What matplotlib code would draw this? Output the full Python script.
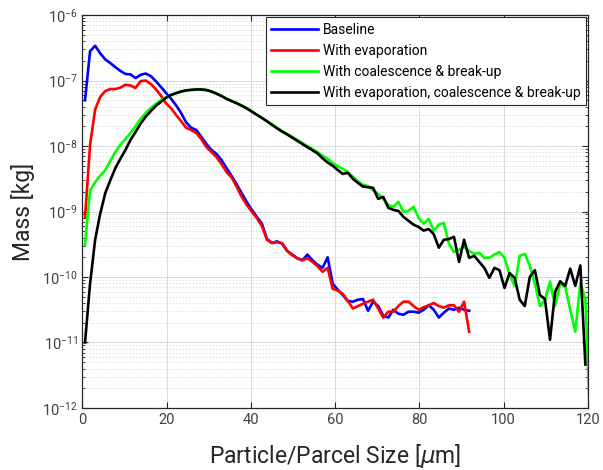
import numpy as np
import matplotlib
matplotlib.use('Agg')
import matplotlib.pyplot as plt
from matplotlib.ticker import LogLocator, MultipleLocator, NullFormatter

plt.rcParams.update({
    'font.family': ['Roboto', 'DejaVu Sans'],
    'font.size': 10.5,
    'axes.linewidth': 0.9,
    'axes.edgecolor': '#262626',
    'xtick.direction': 'in',
    'ytick.direction': 'in',
    'xtick.top': True,
    'ytick.right': True,
    'xtick.color': '#262626',
    'ytick.color': '#262626',
    'xtick.labelcolor': '#404040',
    'ytick.labelcolor': '#404040',
})

# bin centres (um)
size = np.arange(0.6, 121, 1.2)

baseline = [5.0e-8, 2.8e-7, 3.4e-7, 2.6e-7, 2.1e-7, 1.85e-7, 1.6e-7, 1.4e-7, 1.26e-7, 1.24e-7,
            1.09e-7, 1.22e-7, 1.28e-7, 1.17e-7, 9.8e-8, 8.0e-8, 6.5e-8, 5.3e-8, 4.2e-8, 3.2e-8,
            2.3e-8, 1.9e-8, 1.76e-8, 1.38e-8, 1.08e-8, 8.7e-9, 7.6e-9, 6.1e-9, 4.6e-9, 3.5e-9,
            2.6e-9, 1.9e-9, 1.4e-9, 1.06e-9, 8.3e-10, 6.5e-10, 3.8e-10, 3.3e-10, 3.5e-10, 3.2e-10,
            2.5e-10, 2.2e-10, 1.93e-10, 1.8e-10, 2.2e-10, 1.8e-10, 1.53e-10, 1.38e-10, 2.0e-10, 7.9e-11,
            6.4e-11, 5.3e-11, 4.3e-11, 4.2e-11, 4.5e-11, 4.6e-11, 3.05e-11, 4.2e-11, 3.6e-11, 2.56e-11,
            2.4e-11, 3.16e-11, 2.75e-11, 2.65e-11, 2.95e-11, 2.95e-11, 2.85e-11, 3.16e-11, 3.7e-11, 3.16e-11,
            2.4e-11, 2.85e-11, 3.3e-11, 3.16e-11, 3.4e-11, 3.16e-11, 3.05e-11]

evaporation = [8.0e-10, 1.04e-8, 3.6e-8, 5.6e-8, 6.9e-8, 7.4e-8, 7.4e-8, 7.8e-8, 8.6e-8, 8.4e-8,
               7.7e-8, 9.8e-8, 1.0e-7, 8.9e-8, 7.4e-8, 5.9e-8, 4.5e-8, 3.8e-8, 3.0e-8, 2.4e-8,
               1.9e-8, 1.76e-8, 1.58e-8, 1.28e-8, 9.7e-9, 8.1e-9, 6.8e-9, 5.3e-9, 4.0e-9, 3.3e-9,
               2.4e-9, 1.67e-9, 1.26e-9, 9.9e-10, 7.9e-10, 6.0e-10, 3.7e-10, 3.3e-10, 3.4e-10, 3.3e-10,
               2.5e-10, 2.15e-10, 1.93e-10, 1.8e-10, 1.93e-10, 1.7e-10, 1.46e-10, 1.2e-10, 1.38e-10, 6.6e-11,
               6.2e-11, 5.5e-11, 4.3e-11, 3.3e-11, 3.6e-11, 3.9e-11, 4.2e-11, 4.5e-11, 3.3e-11, 2.4e-11,
               2.95e-11, 2.95e-11, 3.6e-11, 4.2e-11, 4.2e-11, 3.6e-11, 3.16e-11, 3.45e-11, 3.7e-11, 4.0e-11,
               3.6e-11, 3.4e-11, 3.7e-11, 3.7e-11, 2.95e-11, 4.2e-11, 1.46e-11]

coal_breakup = [3.1e-10, 2.1e-9, 2.8e-9, 3.5e-9, 4.3e-9, 5.9e-9, 8.1e-9, 1.04e-8, 1.28e-8, 1.58e-8,
                2.0e-8, 2.6e-8, 3.2e-8, 3.8e-8, 4.4e-8, 5.0e-8, 5.5e-8, 6.0e-8, 6.45e-8, 6.8e-8,
                7.05e-8, 7.2e-8, 7.35e-8, 7.35e-8, 7.2e-8, 6.8e-8, 6.35e-8, 5.8e-8, 5.3e-8, 4.9e-8,
                4.55e-8, 4.16e-8, 3.8e-8, 3.4e-8, 3.0e-8, 2.7e-8, 2.4e-8, 2.14e-8, 1.9e-8, 1.7e-8,
                1.53e-8, 1.38e-8, 1.24e-8, 1.11e-8, 1.0e-8, 9.0e-9, 8.1e-9, 7.1e-9, 6.4e-9, 5.5e-9,
                4.9e-9, 4.5e-9, 4.0e-9, 3.4e-9, 2.9e-9, 2.55e-9, 2.45e-9, 2.1e-9, 1.86e-9, 1.58e-9,
                1.26e-9, 1.18e-9, 1.4e-9, 9.9e-10, 1.02e-9, 1.18e-9, 8.0e-10, 6.5e-10, 7.7e-10, 5.1e-10,
                6.3e-10, 6.7e-10, 3.2e-10, 2.4e-10, 2.6e-10, 2.9e-10, 2.5e-10, 2.26e-10, 2.34e-10, 1.96e-10,
                1.96e-10, 2.2e-10, 2.4e-10, 1.96e-10, 1.08e-10, 7.3e-11, 2.1e-10, 2.26e-10, 1.48e-10, 7.9e-11,
                3.6e-11, 4.5e-11, 8.5e-11, 3.6e-11, 7.9e-11, 7.1e-11, 3.16e-11, 1.46e-11, 8.1e-11, 4.6e-11,
                4.7e-13]

evap_coal_breakup = [1.0e-11, 7.9e-11, 3.7e-10, 9.2e-10, 1.9e-9, 3.0e-9, 4.6e-9, 6.4e-9, 8.7e-9, 1.24e-8,
                     1.64e-8, 2.2e-8, 2.8e-8, 3.4e-8, 4.1e-8, 4.7e-8, 5.45e-8, 6.0e-8, 6.4e-8, 6.8e-8,
                     7.05e-8, 7.2e-8, 7.3e-8, 7.3e-8, 7.15e-8, 6.8e-8, 6.3e-8, 5.8e-8, 5.25e-8, 4.85e-8,
                     4.5e-8, 4.12e-8, 3.75e-8, 3.35e-8, 3.0e-8, 2.68e-8, 2.38e-8, 2.1e-8, 1.86e-8, 1.66e-8,
                     1.5e-8, 1.34e-8, 1.2e-8, 1.07e-8, 9.6e-9, 8.6e-9, 7.7e-9, 6.5e-9, 5.6e-9, 5.0e-9,
                     4.3e-9, 3.75e-9, 3.9e-9, 3.16e-9, 2.73e-9, 2.4e-9, 2.35e-9, 2.3e-9, 1.56e-9, 1.67e-9,
                     1.14e-9, 1.06e-9, 1.02e-9, 8.3e-10, 7.2e-10, 6.3e-10, 5.8e-10, 5.1e-10, 5.4e-10, 4.5e-10,
                     2.8e-10, 3.7e-10, 3.8e-10, 4.1e-10, 1.7e-10, 3.7e-10, 1.96e-10, 2.1e-10, 1.7e-10, 1.38e-10,
                     9.7e-11, 1.38e-10, 1.27e-10, 6.8e-11, 1.15e-10, 9.7e-11, 4.5e-11, 3.6e-11, 1.0e-10, 1.27e-10,
                     5.3e-11, 4.6e-11, 1.1e-11, 5.9e-11, 8.6e-11, 7.3e-11, 1.34e-10, 7.3e-11, 1.5e-10, 4.6e-12]

series = [
    (baseline, '#0000ff', 'Baseline'),
    (evaporation, '#ff0000', 'With evaporation'),
    (coal_breakup, '#00ff00', 'With coalescence & break-up'),
    (evap_coal_breakup, '#000000', 'With evaporation, coalescence & break-up'),
]

fig = plt.figure(figsize=(6.03, 4.70), dpi=100)
ax = fig.add_axes([0.1368, 0.132, 0.8382, 0.836])

for vals, col, lab in series:
    ax.plot(size[:len(vals)], vals, color=col, linewidth=1.9, label=lab)

ax.set_yscale('log')
ax.set_xlim(0, 120)
ax.set_ylim(1e-12, 1e-6)
ax.xaxis.set_major_locator(MultipleLocator(20))
ax.yaxis.set_major_locator(LogLocator(base=10, numticks=10))
ax.yaxis.set_minor_locator(LogLocator(base=10, subs=np.arange(2, 10), numticks=10))
ax.yaxis.set_minor_formatter(NullFormatter())
ax.tick_params(which='major', length=4, width=0.8)
ax.tick_params(which='minor', length=2, width=0.6)

ax.grid(True, which='major', color='#d9d9d9', linewidth=0.7)
ax.grid(True, which='minor', axis='y', color='#dcdcdc', linestyle=(0, (2, 2)), linewidth=0.6)
ax.set_axisbelow(True)

ax.set_xlabel('Particle/Parcel Size [$\\mu$m]', fontsize=16.5, color='#262626', labelpad=11)
ax.set_ylabel('Mass [kg]', fontsize=16.5, color='#262626', labelpad=5)

leg = ax.legend(loc='upper right', fontsize=10, frameon=True, fancybox=False,
                edgecolor='#262626', framealpha=1, borderaxespad=0.15,
                handlelength=3.4, handletextpad=0.3, labelspacing=0.5, borderpad=0.4)
leg.get_frame().set_linewidth(0.8)

fig.savefig('out.png', dpi=100)
